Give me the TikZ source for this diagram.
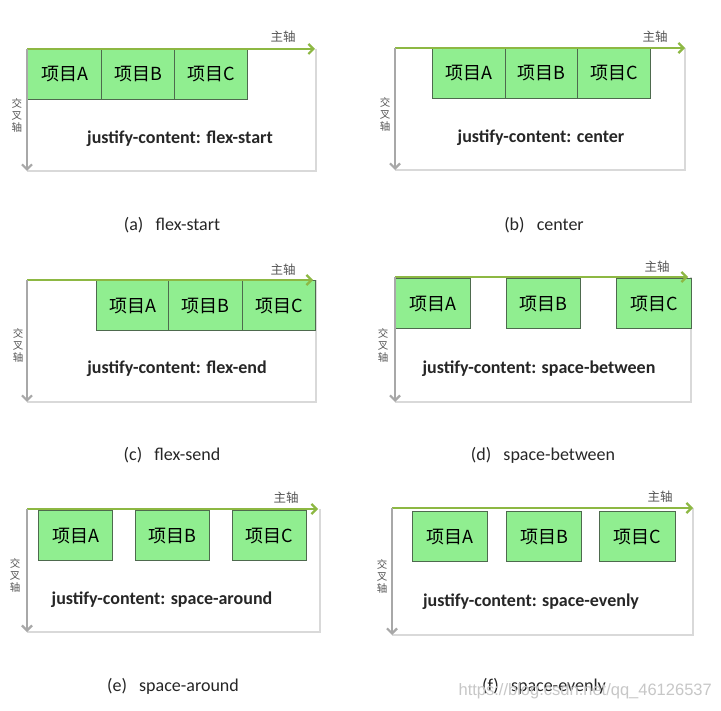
\documentclass[tikz,border=0pt]{standalone}
\usepackage{fontspec}
\setmainfont{Carlito}
\newfontfamily\cjk{Noto Sans CJK SC}
\newfontfamily\wmfont{Liberation Sans}
\usetikzlibrary{arrows.meta}
\definecolor{itemfill}{HTML}{90EE90}
\definecolor{itemdraw}{HTML}{4E6A4E}
\definecolor{mainc}{HTML}{8DB843}
\definecolor{crossc}{HTML}{A8A8A8}
\definecolor{framec}{HTML}{D9D9D9}
\definecolor{labc}{HTML}{555555}
\tikzset{
  item/.style={draw=itemdraw, line width=1.1pt, fill=itemfill, anchor=north west, inner sep=0pt,
    minimum height=50pt, font=\cjk\fontsize{18}{20}\selectfont, text=black},
  mainax/.style={draw=mainc, line width=2.6pt, -{Straight Barb[length=5pt,width=10pt,line width=2.2pt]}},
  crossax/.style={draw=crossc, line width=2.6pt, -{Straight Barb[length=5pt,width=10pt,line width=2.2pt]}},
  frame/.style={draw=framec, line width=1.5pt},
  jc/.style={font=\bfseries\fontsize{18}{20}\selectfont, text=black!85},
  mainlab/.style={font=\cjk\fontsize{12.5}{14}\selectfont, text=labc},
  crosslab/.style={font=\cjk\fontsize{10.5}{12}\selectfont, text=labc, align=center, inner sep=0pt},
  captext/.style={font=\fontsize{18}{20}\selectfont, text=black!85},
}
\begin{document}
\begin{tikzpicture}[x=1pt,y=-1pt]
\useasboundingbox[fill=white] (0,0) rectangle (721,711);
% ---------- (a) flex-start
\coordinate (aO) at (27,49); \coordinate (aE) at (315,49);
\coordinate (aTR) at (316,49); \coordinate (aBR) at (316,171); \coordinate (aD) at (27,171);
\draw[frame] (aTR) -- (aBR) -- (aD);
\node[item, minimum width=74pt] (aA) at (27,49) {项目A};
\node[item, minimum width=73pt] (aB) at (101,49) {项目B};
\node[item, minimum width=73pt] (aC) at (174,49) {项目C};
\draw[mainax] (aO) -- (aE);
\draw[crossax] (aO) -- (aD);
\node[mainlab] (aML) at (283,37) {主轴};
\node[crosslab] (aCL) at (17,115) {交\\叉\\轴};
\node[jc] (aJ) at (180,139) {justify-content: flex-start};
\node[captext] (aCap) at (172,225) {(a)\ \ \ flex-start};
% ---------- (b) center
\coordinate (bO) at (395,48); \coordinate (bE) at (685,48);
\coordinate (bTR) at (685,48); \coordinate (bBR) at (685,170); \coordinate (bD) at (395,170);
\draw[frame] (bTR) -- (bBR) -- (bD);
\node[item, minimum width=73pt] (bA) at (432,48) {项目A};
\node[item, minimum width=72pt] (bB) at (505,48) {项目B};
\node[item, minimum width=73pt] (bC) at (577,48) {项目C};
\draw[mainax] (bO) -- (bE);
\draw[crossax] (bO) -- (bD);
\node[mainlab] (bML) at (655,37) {主轴};
\node[crosslab] (bCL) at (385,114) {交\\叉\\轴};
\node[jc] (bJ) at (541,138) {justify-content: center};
\node[captext] (bCap) at (544,225) {(b)\ \ \ center};
% ---------- (c) flex-end
\coordinate (cO) at (27,280); \coordinate (cE) at (313,280);
\coordinate (cTR) at (316,280); \coordinate (cBR) at (316,402); \coordinate (cD) at (27,402);
\draw[frame] (cTR) -- (cBR) -- (cD);
\node[item, minimum width=72pt] (cA) at (96,280) {项目A};
\node[item, minimum width=74pt] (cB) at (168,280) {项目B};
\node[item, minimum width=73pt] (cC) at (242,280) {项目C};
\draw[mainax] (cO) -- (cE);
\draw[crossax] (cO) -- (cD);
\node[mainlab] (cML) at (283,270) {主轴};
\node[crosslab] (cCL) at (18,345) {交\\叉\\轴};
\node[jc] (cJ) at (177,369) {justify-content: flex-end};
\node[captext] (cCap) at (172,455) {(c)\ \ \ flex-send};
% ---------- (d) space-between
\coordinate (dO) at (395,277); \coordinate (dE) at (688,277);
\coordinate (dTR) at (691,277); \coordinate (dBR) at (691,402); \coordinate (dD) at (395,402);
\draw[frame] (dTR) -- (dBR) -- (dD);
\node[item, minimum width=75pt] (dA) at (395,278) {项目A};
\node[item, minimum width=74pt] (dB) at (506,278) {项目B};
\node[item, minimum width=75pt] (dC) at (616,278) {项目C};
\draw[mainax] (dO) -- (dE);
\draw[crossax] (dO) -- (dD);
\node[mainlab] (dML) at (657,267) {主轴};
\node[crosslab] (dCL) at (383,345) {交\\叉\\轴};
\node[jc] (dJ) at (539,369) {justify-content: space-between};
\node[captext] (dCap) at (543,455) {(d)\ \ \ space-between};
% ---------- (e) space-around
\coordinate (eO) at (27,509); \coordinate (eE) at (318,509);
\coordinate (eTR) at (320,509); \coordinate (eBR) at (320,632); \coordinate (eD) at (27,632);
\draw[frame] (eTR) -- (eBR) -- (eD);
\node[item, minimum width=74pt] (eA) at (38,510) {项目A};
\node[item, minimum width=74pt] (eB) at (135,510) {项目B};
\node[item, minimum width=74pt] (eC) at (232,510) {项目C};
\draw[mainax] (eO) -- (eE);
\draw[crossax] (eO) -- (eD);
\node[mainlab] (eML) at (286,498) {主轴};
\node[crosslab] (eCL) at (15,575) {交\\叉\\轴};
\node[jc] (eJ) at (162,600) {justify-content: space-around};
\node[captext] (eCap) at (173,686) {(e)\ \ \ space-around};
% ---------- (f) space-evenly
\coordinate (fO) at (392,508); \coordinate (fE) at (693,508);
\coordinate (fTR) at (693,508); \coordinate (fBR) at (693,635); \coordinate (fD) at (392,635);
\draw[frame] (fTR) -- (fBR) -- (fD);
\node[item, minimum width=75pt] (fA) at (412,511) {项目A};
\node[item, minimum width=75pt] (fB) at (506,511) {项目B};
\node[item, minimum width=76pt] (fC) at (599,511) {项目C};
\draw[mainax] (fO) -- (fE);
\draw[crossax] (fO) -- (fD);
\node[mainlab] (fML) at (660,497) {主轴};
\node[crosslab] (fCL) at (382,576) {交\\叉\\轴};
\node[jc] (fJ) at (531,602) {justify-content: space-evenly};
\node[captext] (fCap) at (544,686) {(f)\ \ \ space-evenly};
\node[font=\wmfont\fontsize{16.5}{18}\selectfont, text=black!22, anchor=east, inner sep=0pt] (wm) at (712,691) {https://blog.csdn.net/qq\_46126537};
\end{tikzpicture}
\end{document}
